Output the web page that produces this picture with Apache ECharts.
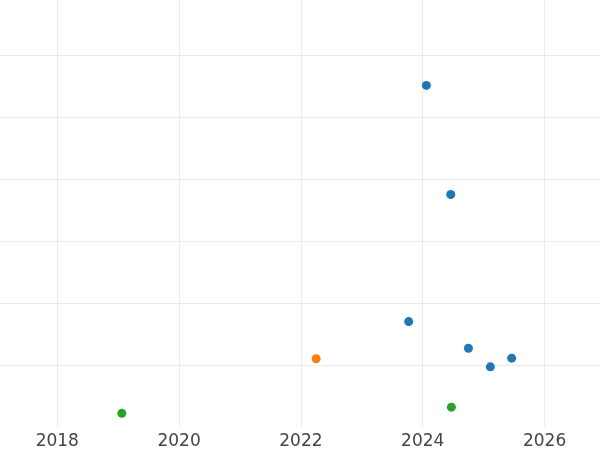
<!DOCTYPE html>
<html>
<head>
<meta charset="utf-8">
<script src="https://cdn.jsdelivr.net/npm/echarts@6/dist/echarts.min.js"></script>
<style>html,body{margin:0;padding:0;background:#fff}#c{width:600px;height:450px}</style>
</head>
<body>
<div id="c"></div>
<script>
// Data (x = year as decimal, y = value in arbitrary units; y axis is unlabeled)
const blueX = [2024.06, 2024.46, 2023.77, 2024.75, 2025.11, 2025.46];
const blueY = [55.1, 37.5, 17.0, 12.7, 9.7, 11.1];
const orangeX = [2022.25];
const orangeY = [11.0];
const greenX = [2019.06, 2024.47];
const greenY = [2.2, 3.2];

const zip = (xs, ys) => xs.map((x, i) => [x, ys[i]]);

const chart = echarts.init(document.getElementById('c'), null, {renderer: 'canvas'});
const gridColor = '#ebebeb';
chart.setOption({
  animation: false,
  backgroundColor: '#ffffff',
  grid: {left: 0, right: 0, top: 0, bottom: 23, containLabel: false},
  xAxis: {
    type: 'value',
    min: 2017.06, max: 2026.91,
    minInterval: 2, maxInterval: 2,
    axisLine: {show: false},
    axisTick: {show: false},
    axisLabel: {
      color: '#444444', fontSize: 17, fontFamily: 'DejaVu Sans',
      margin: 6, showMinLabel: false, showMaxLabel: false,
      formatter: v => String(Math.round(v))
    },
    splitLine: {show: true, showMinLine: false, showMaxLine: false, lineStyle: {color: gridColor, width: 1}}
  },
  yAxis: {
    type: 'value',
    min: 0, max: 68.87, interval: 10,
    axisLine: {show: false},
    axisTick: {show: false},
    axisLabel: {show: false},
    splitLine: {show: true, showMinLine: false, showMaxLine: false, lineStyle: {color: gridColor, width: 1}}
  },
  series: [
    {type: 'scatter', data: zip(blueX, blueY), symbolSize: 9, itemStyle: {color: '#1f77b4', opacity: 1}},
    {type: 'scatter', data: zip(orangeX, orangeY), symbolSize: 9, itemStyle: {color: '#ff7f0e', opacity: 1}},
    {type: 'scatter', data: zip(greenX, greenY), symbolSize: 9, itemStyle: {color: '#2ca02c', opacity: 1}}
  ]
});
</script>
</body>
</html>
